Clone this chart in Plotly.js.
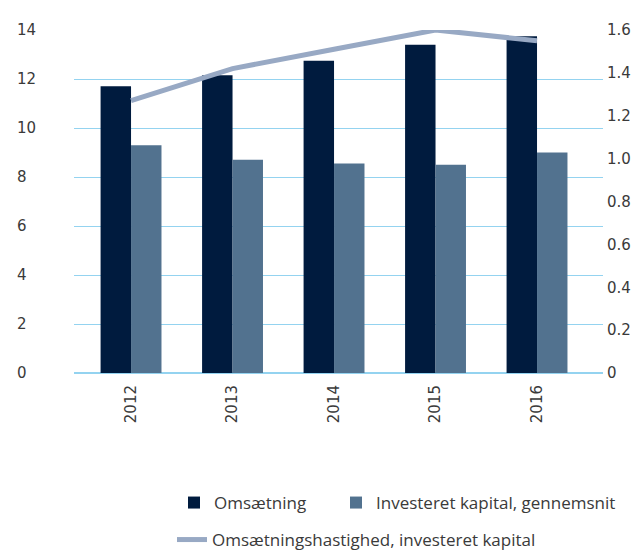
<!DOCTYPE html>
<html>
<head>
<meta charset="utf-8">
<script src="https://cdn.plot.ly/plotly-3.0.1.min.js"></script>
<style>html,body{margin:0;padding:0;background:#fff;}#chart{width:643px;height:551px;}</style>
</head>
<body>
<div id="chart"></div>
<script>
var years = ['2012', '2013', '2014', '2015', '2016'];
var omsaetning = [11.7, 12.15, 12.75, 13.4, 13.75];
var investeretKapital = [9.3, 8.7, 8.55, 8.5, 9.0];
var hastighed = [1.27, 1.42, 1.51, 1.60, 1.55];
var leftTicks = [0, 2, 4, 6, 8, 10, 12, 14];
var rightTicks = [0, 0.2, 0.4, 0.6, 0.8, 1.0, 1.2, 1.4, 1.6];
var rightTickText = ['0', '0.2', '0.4', '0.6', '0.8', '1.0', '1.2', '1.4', '1.6'];

var tickFont = {family: 'DejaVu Sans', size: 15, color: '#3a3a3a'};
var legendFont = {family: 'Open Sans', size: 17, color: '#3a3a3a'};
var gridColor = '#94d3f0';

var traces = [
  {type: 'bar', name: 'Omsætning', x: years, y: omsaetning,
   marker: {color: '#001b3e'}, legend: 'legend', hoverinfo: 'skip'},
  {type: 'bar', name: 'Investeret kapital, gennemsnit', x: years, y: investeretKapital,
   marker: {color: '#52728f'}, legend: 'legend3', hoverinfo: 'skip'},
  {type: 'scatter', mode: 'lines', name: 'Omsætningshastighed, investeret kapital',
   x: years, y: hastighed, yaxis: 'y2',
   line: {color: '#98a9c4', width: 5}, legend: 'legend2', hoverinfo: 'skip'}
];

function legendAt(px, py) {
  return {
    orientation: 'h', xref: 'container', yref: 'container',
    x: px / 643, y: (551 - py) / 551, xanchor: 'left', yanchor: 'middle',
    font: legendFont, bgcolor: 'rgba(0,0,0,0)', borderwidth: 0
  };
}

var layout = {
  width: 643, height: 551,
  margin: {l: 16, r: 40, t: 30, b: 178},
  paper_bgcolor: '#ffffff', plot_bgcolor: '#ffffff',
  barmode: 'group', bargap: 0.4, bargroupgap: 0,
  showlegend: true,
  xaxis: {
    type: 'category', domain: [0.0988, 1], range: [-0.562, 4.65],
    tickangle: -90, ticks: '', tickfont: tickFont, ticklabelstandoff: 8,
    showgrid: false, showline: false, zeroline: false, fixedrange: true
  },
  yaxis: {
    anchor: 'free', position: 0, side: 'right',
    range: [0, 14], tickvals: leftTicks, ticks: '',
    tickfont: tickFont, ticklabeloverflow: 'allow', ticklabelstandoff: 0,
    showgrid: true, gridcolor: gridColor, gridwidth: 1,
    zeroline: true, zerolinecolor: gridColor, zerolinewidth: 2,
    showline: false, fixedrange: true
  },
  yaxis2: {
    overlaying: 'y', side: 'right', anchor: 'x',
    range: [0, 1.6], tickvals: rightTicks, ticktext: rightTickText, ticks: '',
    tickfont: tickFont, ticklabelstandoff: 3,
    showgrid: false, zeroline: false, showline: false, fixedrange: true
  },
  legend: legendAt(174, 503),
  legend3: legendAt(336, 503),
  legend2: legendAt(172, 540)
};

Plotly.newPlot('chart', traces, layout, {displayModeBar: false, staticPlot: true});
</script>
</body>
</html>
